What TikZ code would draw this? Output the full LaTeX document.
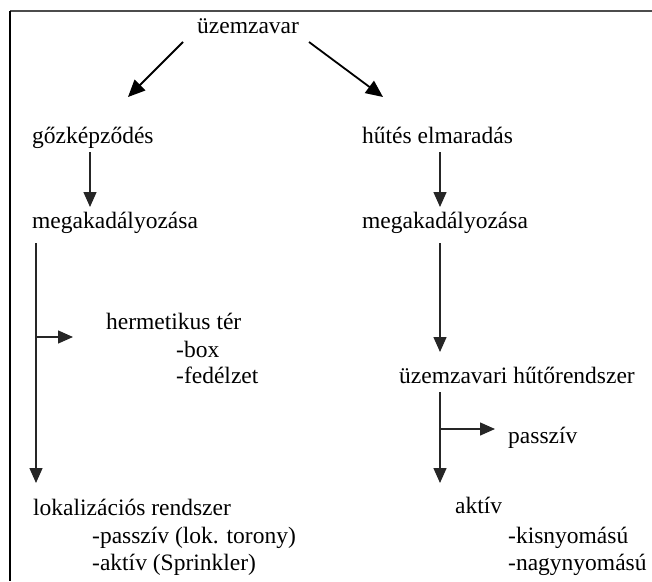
\documentclass[tikz,border=0pt]{standalone}
\usepackage{fontspec}
\setmainfont{Liberation Serif}
\usetikzlibrary{arrows.meta}
\begin{document}
\begin{tikzpicture}[x=1pt,y=-1pt,
  lbl/.style={anchor=base west,inner sep=0pt,font=\fontsize{23.5}{28}\selectfont},
  arr/.style={draw=black!85,line width=1.4pt,-{Triangle[length=15pt,width=13pt]}},
  darr/.style={draw=black,line width=1.8pt,-{Triangle[length=17pt,width=15pt]}},
  frame/.style={line width=1.4pt}]
\useasboundingbox (0,0) rectangle (652,581);
% frame
\draw[frame,draw=black!70,line width=2pt] (10,11) -- (652,11);
\draw[frame,draw=black] (10,11) -- (10,581);
% texts
\node[lbl] (uz) at (197,33) {üzemzavar};
\node[lbl] (goz) at (32,143) {gőzképződés};
\node[lbl] (hut) at (362,143) {hűtés elmaradás};
\node[lbl] (meg1) at (32,228) {megakadályozása};
\node[lbl] (meg2) at (362,228) {megakadályozása};
\node[lbl] (herm) at (106,329) {hermetikus tér};
\node[lbl] (box) at (176,357) {-box};
\node[lbl] (fed) at (176,383) {-fedélzet};
\node[lbl] (uzh) at (399,383) {üzemzavari hűtőrendszer};
\node[lbl] (passz) at (508,443) {passzív};
\node[lbl] (lok) at (33,515) {lokalizációs rendszer};
\node[lbl] (lp) at (92,543) {-passzív (lok. torony)};
\node[lbl] (la) at (92,570) {-aktív (Sprinkler)};
\node[lbl] (akt) at (455,513) {aktív};
\node[lbl] (kis) at (508,543) {-kisnyomású};
\node[lbl] (nagy) at (508,570) {-nagynyomású};
% connector ends
\coordinate (d1s) at (183,42);  \coordinate (d1e) at (128,97);
\coordinate (d2s) at (309,42);  \coordinate (d2e) at (383,97);
\coordinate (v1s) at (90,152);  \coordinate (v1e) at (90,207);
\coordinate (v2s) at (440,152); \coordinate (v2e) at (440,207);
\coordinate (v3s) at (36,243);  \coordinate (v3e) at (36,483);
\coordinate (b1s) at (36,337);  \coordinate (b1e) at (73,337);
\coordinate (v4s) at (440,243); \coordinate (v4e) at (440,352);
\coordinate (v5s) at (440,392); \coordinate (v5e) at (440,483);
\coordinate (b2s) at (440,429); \coordinate (b2e) at (495,429);
% connectors
\draw[darr] (d1s) -- (d1e);
\draw[darr] (d2s) -- (d2e);
\draw[arr] (v1s) -- (v1e);
\draw[arr] (v2s) -- (v2e);
\draw[arr] (v3s) -- (v3e);
\draw[arr] (b1s) -- (b1e);
\draw[arr] (v4s) -- (v4e);
\draw[arr] (v5s) -- (v5e);
\draw[arr] (b2s) -- (b2e);
\end{tikzpicture}
\end{document}
